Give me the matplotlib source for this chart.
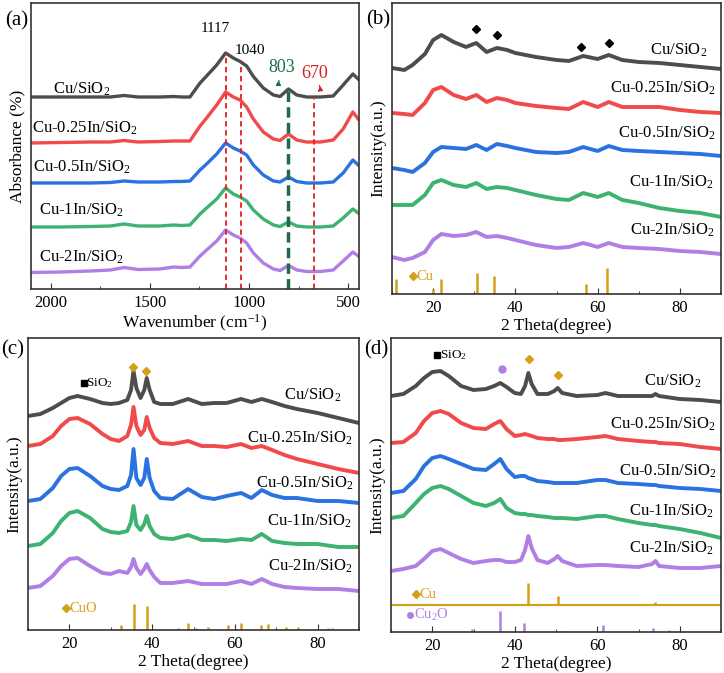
import numpy as np
import matplotlib
matplotlib.use("Agg")
import matplotlib.pyplot as plt

plt.rcParams['font.family'] = ['Liberation Serif', 'DejaVu Serif']
plt.rcParams['mathtext.fontset'] = 'custom'
plt.rcParams['mathtext.rm'] = 'Liberation Serif'
plt.rcParams['mathtext.it'] = 'Liberation Serif:italic'
plt.rcParams['mathtext.default'] = 'regular'

# colours of the five samples
colors = ['#4d4d4d', '#f04a4a', '#2a72e0', '#3cb371', '#b07fe6']
gold = '#d4a017'
names = ['Cu/SiO$_2$', 'Cu-0.25In/SiO$_2$', 'Cu-0.5In/SiO$_2$',
         'Cu-1In/SiO$_2$', 'Cu-2In/SiO$_2$']

# ---- (a) FTIR ----
ftir_wn = [2100, 1950, 1800, 1700, 1630, 1560, 1450, 1380, 1340, 1298, 1247, 1214,
           1163, 1118, 1079, 1045, 1012, 978, 928, 877, 843, 801, 759, 709, 640,
           575, 525, 476, 449]
ftir_cu = [192, 192, 192, 192, 193.5, 192, 192, 192.5, 192, 192, 206, 213, 224, 236,
           231, 227.5, 223, 212.5, 201, 194, 192.5, 200, 194, 192, 192, 193, 204, 215, 210]
ftir_025 = [146, 146.5, 147, 147, 148.5, 147, 147.5, 148, 148, 148, 163, 171, 184, 197,
            192, 189, 182, 170, 157, 150, 148.5, 155, 149, 147, 147, 149, 160, 177, 170]
ftir_05 = [106, 106, 106, 106.5, 108, 107, 107, 107.5, 107.5, 108, 119, 125, 135, 146,
           141, 138, 134, 124, 114, 108, 107, 112, 107.5, 106, 106, 107, 116, 129, 124]
ftir_1 = [62, 62, 62.5, 63, 65, 63, 63, 64, 63.5, 64, 75, 81, 90, 101,
          95, 92, 88, 79, 70, 64, 62.5, 67, 63, 62, 62, 63, 71, 80, 76]
ftir_2 = [16.5, 17, 18, 19, 21.5, 19.5, 20, 22, 21.5, 22, 33, 39, 48, 59,
          54, 51, 46, 36, 26, 20, 18.5, 23.5, 19, 17.5, 17.5, 19, 28, 37, 33]
ftir_peaks = [1117, 1040, 803, 670]

# ---- (b) XRD calcined ----
xb = [10, 13, 15, 18, 20, 22, 25, 28, 30.5, 33, 35.5, 38, 40, 45, 50, 53, 56.5, 60,
      62.7, 66, 70, 75, 80, 85, 90]
b_cu = [226, 224, 229, 240, 254, 259, 252, 247, 251, 242, 246, 244, 241, 237, 234, 233,
        238, 235, 239, 234, 232, 231, 229, 227, 225]
b_025 = [181, 180, 179, 191, 204, 207, 199, 195, 199, 192, 196, 194, 191, 188, 186, 185,
         192, 187, 192, 187, 187, 187, 184, 182, 181]
b_05 = [126, 124, 122, 131, 142, 147, 146, 145, 149, 144, 150, 148, 146, 142, 141, 142,
        147, 143, 148, 144, 143, 142, 141, 140, 138]
b_1 = [89, 89, 89, 99, 111, 114, 109, 107, 111, 105, 107, 106, 104, 99, 95, 94,
       101, 97, 101, 94, 91, 86, 83, 81, 77]
b_2 = [37, 34, 36, 42, 54, 60, 58, 59, 62, 57, 58, 56, 54, 49, 46, 47,
       51, 47, 51, 47, 46, 45, 43, 42, 40]
b_ref_pos = [11.0, 19.9, 21.8, 30.7, 34.8, 57.2, 62.2]
b_ref_h = [15, 5, 15, 21, 18, 10, 26]
b_marks_x = [30.4, 35.6, 56.0, 62.7]
b_marks_y = [265, 259, 247, 251]

# ---- (c) XRD ----
xc = [10, 13, 16, 18, 20, 22, 25, 28, 30, 32, 34, 34.9, 35.5, 36.2, 37.2, 38.1, 38.7,
      39.4, 40.5, 42, 45, 48.7, 52, 55, 58, 61.5, 64, 66.5, 69, 72, 75, 80, 85, 90]
c_cu = [214, 216, 222, 227, 232, 234, 231, 227, 226, 227, 230, 240, 259, 242, 232, 240,
        252, 240, 228, 226, 226, 231, 226, 227, 227, 231, 228, 231, 228, 224, 221, 217, 212, 207]
c_025 = [184, 186, 194, 204, 211, 212, 206, 196, 191, 189, 194, 205, 223, 204, 195, 200,
         213, 202, 192, 187, 186, 189, 184, 184, 183, 186, 182, 184, 180, 175, 171, 166, 161, 157]
c_05 = [129, 131, 142, 154, 161, 162, 154, 144, 141, 140, 144, 155, 181, 152, 145, 152,
        171, 152, 139, 132, 131, 141, 133, 131, 134, 137, 132, 140, 135, 132, 132, 129, 129, 127]
c_1 = [84, 86, 97, 109, 117, 119, 112, 101, 98, 97, 99, 108, 124, 105, 100, 106,
       114, 104, 96, 92, 91, 95, 90, 90, 89, 91, 90, 96, 89, 87, 86, 86, 83, 83]
c_2 = [42, 44, 54, 64, 71, 72, 64, 57, 56, 59, 57, 63, 71, 62, 56, 61,
       66, 60, 53, 47, 47, 49, 46, 46, 46, 49, 46, 51, 46, 43, 42, 41, 41, 39]
c_ref_pos = [32.5, 35.5, 38.7, 46.2, 48.7, 50.5, 53.5, 58.3, 61.5, 66.2, 68.1, 72.4,
             75.2, 82.5, 83.5]
c_ref_h = [5, 26, 24, 2, 7, 2, 3, 5, 7, 5, 6, 3, 3, 2, 2]

# ---- (d) XRD reduced ----
xd = [10, 13, 16, 18, 20, 22, 24, 27, 30, 33, 35, 36.5, 38, 40, 41.5, 42.5, 43.3, 44.1,
      45.5, 48, 49.6, 50.4, 51.5, 55, 60, 62, 65, 70, 73.3, 74.1, 75, 80, 85, 90]
d_cu = [236, 238, 246, 254, 260, 261, 256, 246, 242, 243, 246, 249, 245, 239, 238, 246,
        259, 248, 238, 238, 241, 244, 239, 236, 237, 239, 236, 236, 236, 238, 236, 233, 232, 230]
d_025 = [189, 190, 199, 211, 219, 221, 218, 209, 204, 203, 208, 211, 203, 196, 197, 198,
         197, 196, 194, 193, 193, 192, 192, 193, 195, 196, 193, 191, 190, 190, 189, 188, 185, 183]
d_05 = [139, 141, 153, 166, 174, 176, 173, 168, 163, 162, 168, 173, 163, 155, 156, 156,
        154, 153, 151, 150, 149, 149, 149, 149, 152, 152, 149, 148, 147, 147, 146, 144, 143, 141]
d_1 = [114, 116, 129, 138, 144, 146, 143, 136, 129, 126, 129, 133, 124, 119, 118, 118,
       117, 117, 116, 115, 114, 114, 114, 113, 116, 116, 113, 109, 107, 107, 106, 103, 99, 94]
d_2 = [61, 63, 66, 73, 81, 83, 79, 73, 69, 71, 72, 72, 70, 70, 72, 82,
       96, 84, 72, 69, 73, 76, 71, 66, 67, 67, 66, 65, 68, 71, 66, 64, 64, 66]
d_cu_pos = [43.3, 50.4, 74.1]
d_cu_h = [22, 9, 3]
d_cu2o_pos = [29.6, 36.4, 42.3, 52.4, 61.3, 73.5, 77.3]
d_cu2o_h = [3, 21, 9, 1, 7, 4, 2]

W, H = 724, 673
fig = plt.figure(figsize=(W / 100, H / 100), dpi=100)


def box(x0, y0, x1, y1):
    return [x0 / W, 1 - y1 / H, (x1 - x0) / W, (y1 - y0) / H]


def style(ax, ylabel):
    for s in ax.spines.values():
        s.set_color('#333333')
        s.set_linewidth(1.2)
    ax.tick_params(axis='x', which='both', direction='in', top=False,
                   labelsize=12, pad=4, color='#333333')
    ax.tick_params(axis='x', which='major', length=4)
    ax.tick_params(axis='x', which='minor', length=2.5)
    ax.set_yticks([])
    ax.set_ylabel(ylabel, fontsize=12.5, labelpad=4)


axa = fig.add_axes(box(31, 3, 359, 289))
axb = fig.add_axes(box(392, 3, 721, 294))
axc = fig.add_axes(box(28, 338, 359, 630))
axd = fig.add_axes(box(391, 338, 721, 632))

# (a)
for ys, c in zip([ftir_cu, ftir_025, ftir_05, ftir_1, ftir_2], colors):
    axa.plot(ftir_wn, ys, color=c, lw=2.4)
tops = np.interp(ftir_peaks, ftir_wn[::-1], ftir_cu[::-1])
axa.vlines(ftir_peaks[:2], 0, tops[:2], colors='#e02020', linestyles=(0, (3, 2)), lw=1.3)
axa.vlines(ftir_peaks[2], 0, tops[2], colors='#1e6b45', linestyles=(0, (3, 1.5)), lw=2.5)
axa.vlines(ftir_peaks[3], 0, tops[3], colors='#e02020', linestyles=(0, (3, 2)), lw=1.3)
axa.text(1172, 260, '1117', ha='center', va='center', fontsize=11)
axa.text(995, 239, '1040', ha='center', va='center', fontsize=11)
axa.text(833, 222, '803', ha='center', va='center', fontsize=13, color='#1e6b45')
axa.text(667, 216, '670', ha='center', va='center', fontsize=13, color='#d42020')
axa.annotate('', xy=(822, 202), xytext=(845, 211),
             arrowprops=dict(arrowstyle='-|>', color='#1e6b45', lw=1,
                             connectionstyle='arc3,rad=0.6', mutation_scale=6))
axa.annotate('', xy=(668, 196), xytext=(650, 206),
             arrowprops=dict(arrowstyle='-|>', color='#d42020', lw=1,
                             connectionstyle='arc3,rad=-0.6', mutation_scale=6))
lab_a = [(1843, 200), (1828, 161), (1843, 122), (1843, 79), (1843, 32)]
for (x, y), n in zip(lab_a, names):
    axa.text(x, y, n, ha='center', va='center', fontsize=12)
axa.set_xlim(2100, 445)
axa.set_ylim(0, 286)
axa.set_xticks([2000, 1500, 1000, 500])
axa.set_xticks([1750, 1250, 750], minor=True)
axa.set_xlabel('Wavenumber (cm$^{-1}$)', fontsize=12.5, labelpad=2)
style(axa, 'Absorbance (%)')


def xrd_panel(ax, x, series, lab_y, lab_x):
    for ys, c in zip(series, colors):
        ax.plot(x, ys, color=c, lw=2.8)
    for n, y, lx in zip(names, lab_y, lab_x):
        ax.text(lx, y, n, ha='right', va='center', fontsize=12)
    ax.set_xlim(10, 90)
    ax.set_xticks([20, 40, 60, 80])
    ax.set_xticks([10, 30, 50, 70, 90], minor=True)
    ax.set_xlabel('2 Theta(degree)', fontsize=12.5, labelpad=2)
    style(ax, 'Intensity(a.u.)')


# (b)
xrd_panel(axb, xb, [b_cu, b_025, b_05, b_1, b_2],
          [244, 206, 161, 112, 64], [86.6, 88.6, 88.6, 88.3, 88.5])
axb.vlines(b_ref_pos, 0, b_ref_h, colors=gold, lw=1.8)
axb.plot(b_marks_x, b_marks_y, 'D', color='black', ms=4.5)
axb.plot([15.1], [18], 'D', color=gold, ms=4)
axb.text(16.0, 18, 'Cu', color=gold, fontsize=10.5, va='center')
axb.set_ylim(0, 291)

# (c)
xrd_panel(axc, xc, [c_cu, c_025, c_05, c_1, c_2],
          [235, 192, 147, 109, 64], [85.8, 88.5, 88.6, 88.4, 88.5])
axc.vlines(c_ref_pos, 0, c_ref_h, colors=gold, lw=1.8)
axc.plot([35.3, 38.5], [263, 259], 'D', color=gold, ms=4)
axc.plot([23.5], [247], 's', color='black', ms=4)
axc.text(24.1, 247, 'SiO$_2$', fontsize=9.5, va='center')
axc.plot([19.1], [22], 'D', color=gold, ms=4)
axc.text(20.0, 22, 'CuO', color=gold, fontsize=10.5, va='center')
axc.set_ylim(0, 292)

# (d)
xrd_panel(axd, xd, [d_cu, d_025, d_05, d_1, d_2],
          [251, 208, 161, 121, 84], [85.2, 88.6, 88.8, 88.3, 88.4])
axd.axhline(27, color=gold, lw=1.5)
axd.vlines(d_cu_pos, 27, [27 + h for h in d_cu_h], colors=gold, lw=1.8)
axd.vlines(d_cu2o_pos, 0, d_cu2o_h, colors=colors[4], lw=1.8)
axd.plot([43.5, 50.6], [273, 257], 'D', color=gold, ms=4.5)
axd.plot([36.9], [263], 'o', color=colors[4], ms=5)
axd.plot([21.2], [277], 's', color='black', ms=4)
axd.text(21.8, 277, 'SiO$_2$', fontsize=9.5, va='center')
axd.plot([16.1], [38], 'D', color=gold, ms=4)
axd.text(17.0, 38, 'Cu', color=gold, fontsize=10.5, va='center')
axd.plot([14.6], [17], 'o', color=colors[4], ms=4)
axd.text(15.5, 17, 'Cu$_2$O', color=colors[4], fontsize=10.5, va='center')
axd.set_ylim(0, 294)

for lab, (x, y) in zip(['(a)', '(b)', '(c)', '(d)'],
                       [(17, 21), (378, 20), (13, 350), (376, 350)]):
    fig.text(x / W, 1 - y / H, lab, fontsize=15, ha='center', va='center')

fig.savefig('out.png', dpi=100)
